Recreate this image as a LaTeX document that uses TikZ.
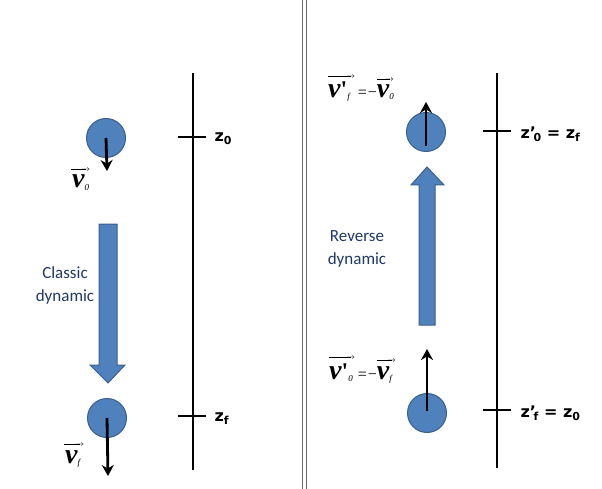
\documentclass[tikz,border=0pt]{standalone}
\usepackage{fontspec}
\setmainfont{Liberation Sans}
\newfontfamily\vfam{Liberation Serif}
\newfontfamily\calib{Carlito}
\newfontfamily\zfam{DejaVu Sans}
\usetikzlibrary{arrows.meta}
\definecolor{ballblue}{HTML}{4F81BD}
\definecolor{balledge}{HTML}{3A5F8B}
\definecolor{txtnavy}{HTML}{1F3864}
\newdimen\axdim
\newcommand\arrline[1]{\hbox to #1{\fontsize{8}{8}\selectfont$\mathsurround0pt\axdim=\fontdimen22\textfont2\relax\leaders\vrule height\dimexpr\axdim+0.3pt\relax depth\dimexpr-\axdim+0.3pt\relax\hfill\mkern-9mu\mathord\rightarrow$}}
\newcommand\varrow[2]{\vbox{\offinterlineskip\halign{##\hfil\cr\arrline{#1}\cr\noalign{\kern4pt}#2\cr}}}
\newcommand\vsym{\hbox{\vfam\fontsize{28}{28}\selectfont\bfseries\itshape v}}
\newcommand\vprime{\hbox{\vfam\fontsize{24}{24}\selectfont\bfseries '}}
\newcommand\vsub[1]{\lower2pt\hbox{\vfam\fontsize{9}{9}\selectfont\itshape #1}}
\newcommand\veq{\hbox{\vfam\fontsize{16}{16}\selectfont\,=\kern1pt−}}
\newcommand\zlab[1]{z\raisebox{-0.35ex}{\fontsize{11}{11}\selectfont #1}}
\newcommand\zplab[1]{z\rlap{’}\raisebox{-0.35ex}{\fontsize{11}{11}\selectfont\hspace{0.35em}#1}}
\begin{document}
\begin{tikzpicture}[x=1pt,y=-1pt,
  ball/.style={circle,fill=ballblue,draw=balledge,line width=1pt,minimum size=39pt,inner sep=0pt},
  vel/.style={line width=2.8pt,-{Stealth[length=11pt,width=12pt]}},
  axis/.style={line width=1.8pt},
  big/.style={fill=ballblue,draw=balledge,line width=1pt},
  dyn/.style={font=\calib\fontsize{17}{23}\selectfont,text=txtnavy,align=center},
  zl/.style={anchor=west,font=\zfam\bfseries\fontsize{16}{16}\selectfont},
  vl/.style={inner sep=0pt}]
\useasboundingbox (0,0) rectangle (602,489);
% divider
\draw[gray!80!black,line width=1.3pt] (302.5,0) -- (302.5,489);
\draw[gray!80!black,line width=1.3pt] (306.5,0) -- (306.5,489);
% ---------- left ----------
\node[ball] (b1) at (106,138) {};
\coordinate (t1) at (107,171);
\draw[vel] (b1.center) -- (t1);
\node[vl,anchor=base west] (lv0) at (71,188) {\varrow{19pt}{\hbox{\kern1pt\vsym\vsub{0}}}};
\node[ball] (b2) at (107,418) {};
\coordinate (t2) at (108,476);
\draw[vel] (b2.center) -- (t2);
\node[vl,anchor=base west] (lvf) at (64,463) {\varrow{20pt}{\hbox{\kern1pt\vsym\vsub{f}}}};
\draw[big] (99,224) -- (117,224) -- (117,365) -- (125,365) -- (108,383) -- (90,365) -- (99,365) -- cycle;
\node[dyn] (cd) at (65,285) {Classic\\dynamic};
\coordinate (a1t) at (193,73);
\coordinate (a1b) at (193,470);
\draw[axis] (a1t) -- (a1b);
\coordinate (k1a) at (178,137); \coordinate (k1b) at (206,137);
\draw[axis] (k1a) -- (k1b);
\coordinate (k2a) at (178,416); \coordinate (k2b) at (206,416);
\draw[axis] (k2a) -- (k2b);
\node[zl] (z0) at (211,139) {\zlab{0}};
\node[zl] (zf) at (211,419) {\zlab{f}};
% ---------- right ----------
\node[ball] (b3) at (426,132) {};
\coordinate (s3) at (426,146);
\coordinate (t3) at (426,102);
\draw[vel] (s3) -- (t3);
\node[vl,anchor=base west] (rvf) at (328,98) {\varrow{27pt}{\hbox{\vsym\vprime\vsub{f}}}\veq\varrow{17pt}{\hbox{\vsym\vsub{0}}}};
\node[ball] (b4) at (427,413) {};
\coordinate (s4) at (427,411);
\coordinate (t4) at (427,349);
\draw[vel] (s4) -- (t4);
\node[vl,anchor=base west] (rv0) at (329,379) {\varrow{26pt}{\hbox{\vsym\vprime\vsub{0}}}\veq\varrow{19pt}{\hbox{\vsym\vsub{f}}}};
\draw[big] (419,325) -- (435,325) -- (435,185) -- (444,185) -- (427,167) -- (411,185) -- (419,185) -- cycle;
\node[dyn] (rd) at (357,249) {Reverse\\dynamic};
\coordinate (a2t) at (497,73);
\coordinate (a2b) at (497,468);
\draw[axis] (a2t) -- (a2b);
\coordinate (k3a) at (483,131); \coordinate (k3b) at (511,131);
\draw[axis] (k3a) -- (k3b);
\coordinate (k4a) at (483,410); \coordinate (k4b) at (511,410);
\draw[axis] (k4a) -- (k4b);
\node[zl] (zp0) at (517,134) {\zplab{0} = \zlab{f}};
\node[zl] (zpf) at (517,413) {\zplab{f} = \zlab{0}};
\end{tikzpicture}
\end{document}
